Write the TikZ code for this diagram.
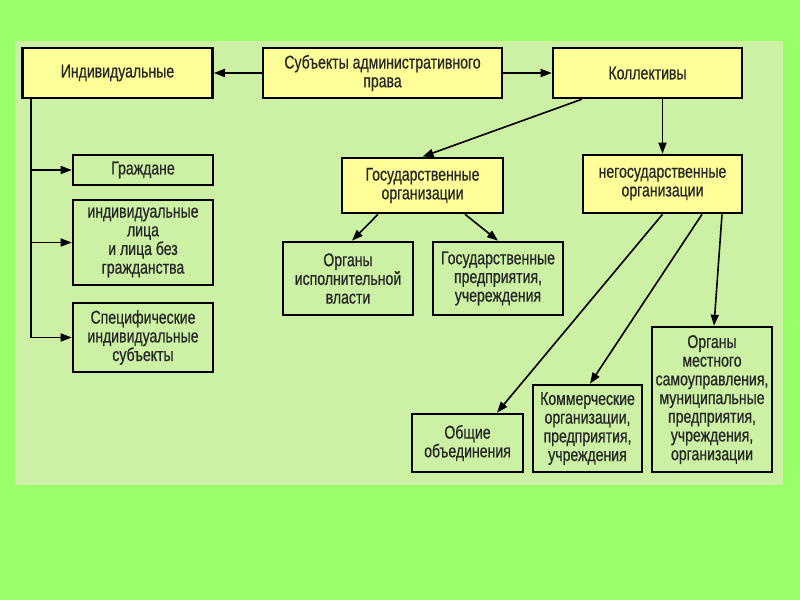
\documentclass[tikz,border=0pt]{standalone}
\usepackage{fontspec}
\setmainfont{Liberation Sans}[FakeStretch=0.76,FakeBold=0.6]
\usetikzlibrary{arrows.meta}
\definecolor{bgout}{RGB}{153,255,102}
\definecolor{panel}{RGB}{204,240,164}
\definecolor{yel}{RGB}{255,255,153}
\tikzset{
  box/.style={draw=black, line width=2.6pt, align=center, inner sep=1pt,
    font=\fontsize{18.5}{18.7}\selectfont, text=black!85},
  ybox/.style={box, fill=yel},
  gbox/.style={box, fill=panel},
  arr/.style={line width=1.6pt, -{Triangle[length=11pt,width=8pt]}},
  ln/.style={line width=1.6pt}
}
\begin{document}
\begin{tikzpicture}[x=1pt,y=-1pt]
\useasboundingbox (0,0) rectangle (800,600);
\fill[bgout] (0,0) rectangle (800,600);
\fill[panel] (15,41) rectangle (783,485);

\node[ybox, minimum width=190pt, minimum height=50pt] (ind) at (117.5,73) {Индивидуальные};
\node[ybox, minimum width=239pt, minimum height=50pt] (subj) at (382.5,73) {Субъекты административного\\права};
\node[ybox, minimum width=189pt, minimum height=50pt] (koll) at (647.5,73) {Коллективы};

\node[gbox, minimum width=140pt, minimum height=30pt] (grazh) at (143,170) {Граждане};
\node[gbox, minimum width=140pt, minimum height=85pt] (lica) at (143,242.5) {индивидуальные\\лица\\и лица без\\гражданства};
\node[gbox, minimum width=140pt, minimum height=69pt] (spec) at (143,337.5) {Специфические\\индивидуальные\\субъекты};

\node[ybox, minimum width=161pt, minimum height=55pt] (gos) at (422.5,185.5) {Государственные\\организации};
\node[gbox, minimum width=130pt, minimum height=73pt] (organy) at (348,278.5) {Органы\\исполнительной\\власти};
\node[gbox, minimum width=130pt, minimum height=73pt] (gospred) at (498,278.5) {Государственные\\предприятия,\\учереждения};

\node[ybox, minimum width=159pt, minimum height=58pt] (negos) at (662.5,184) {негосударственные\\организации};
\node[gbox, minimum width=111pt, minimum height=58pt] (obsh) at (467.5,443) {Общие\\объединения};
\node[gbox, minimum width=109pt, minimum height=87pt] (komm) at (587.5,428.5) {Коммерческие\\организации,\\предприятия,\\учреждения};
\node[gbox, minimum width=120pt, minimum height=145pt] (mestn) at (712,399.5) {Органы\\местного\\самоуправления,\\муниципальные\\предприятия,\\учреждения,\\организации};

\draw[arr] (subj.west) -- (ind.east);
\draw[arr] (subj.east) -- (koll.west);

\coordinate (vtop) at ([xshift=10pt]ind.south west);
\draw[arr] (vtop) |- (grazh.west);
\draw[arr] (vtop) |- (lica.west);
\draw[arr] (vtop) |- (spec.west);

\draw[arr] (negos.north |- koll.south) -- (negos.north);
\draw[arr] ([xshift=30pt]koll.south west) -- (gos.north);

\draw[arr] ([xshift=-44.5pt]gos.south) -- ([xshift=4pt]organy.north);
\draw[arr] ([xshift=42.5pt]gos.south) -- (gospred.north);

\draw[arr] (negos.south) -- ([xshift=29.5pt]obsh.north);
\draw[arr] ([xshift=39.5pt]negos.south) -- ([xshift=2.5pt]komm.north);
\draw[arr] ([xshift=59.5pt]negos.south) -- ([xshift=2pt]mestn.north);
\end{tikzpicture}
\end{document}
